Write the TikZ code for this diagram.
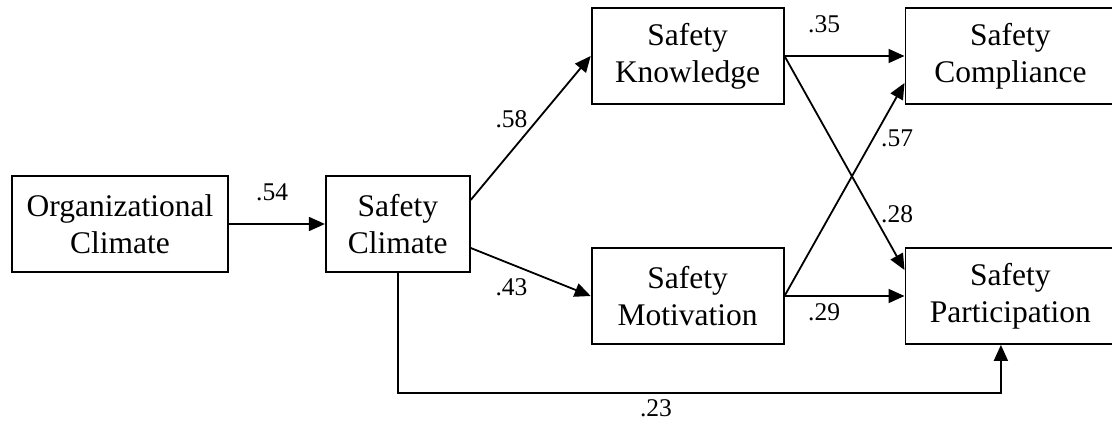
\documentclass[tikz,border=0pt]{standalone}
\usepackage{fontspec}
\setmainfont{Liberation Serif}
\usetikzlibrary{arrows.meta, positioning}
\tikzstyle{factor} = [rectangle, draw=black, line width=1.8pt, minimum height=96pt, align=center, inner sep=0pt, font=\fontsize{31.5}{37}\selectfont]
\tikzstyle{arrow} = [line width=1.8pt, -{Triangle[length=16pt,width=14pt]}]
\tikzstyle{coef} = [font=\fontsize{25.5}{30}\selectfont, inner sep=0pt]

\begin{document}
\begin{tikzpicture}[x=1pt, y=1pt]
        \useasboundingbox (0,0) rectangle (1112,424);
        \node (org) [factor, minimum width=216pt] at (120,200) {Organizational\\Climate};
        \node (clim) [factor, minimum width=144pt, right=96pt of org] {Safety\\Climate};
        \node (know) [factor, minimum width=192pt, right=120pt of clim, yshift=168pt] {Safety\\Knowledge};
        \node (mot) [factor, minimum width=192pt, right=120pt of clim, yshift=-72pt] {Safety\\Motivation};
        \node (comp) [factor, minimum width=210pt, right=120pt of know] {Safety\\Compliance};
        \node (part) [factor, minimum width=210pt, right=120pt of mot] {Safety\\Participation};

        \draw [arrow] (org) -- node[coef, pos=0.45, above=22pt] {.54} (clim);
        \draw [arrow] ([yshift=24pt]clim.east) -- node[coef, pos=0.34, above=22pt] {.58} (know.west);
        \draw [arrow] ([yshift=-24pt]clim.east) -- node[coef, pos=0.34, below=13pt] {.43} (mot.west);
        \draw [arrow] (know.east) -- node[coef, pos=0.33, above=22pt] {.35} (comp.west);
        \draw [arrow] (know.east) -- node[coef, pos=0.74, right=7pt] {.28} ([yshift=26pt]part.west);
        \draw [arrow] (mot.east) -- node[coef, pos=0.74, right=7pt] {.57} ([yshift=-27pt]comp.west);
        \draw [arrow] (mot.east) -- node[coef, pos=0.33, below=7pt] {.29} (part.west);
        \draw [arrow] (clim.south) -- ++(0,-120) -| node[coef, pos=0.214, below=6pt] {.23} ([xshift=-9.5pt]part.south);
    \end{tikzpicture}
\end{document}
